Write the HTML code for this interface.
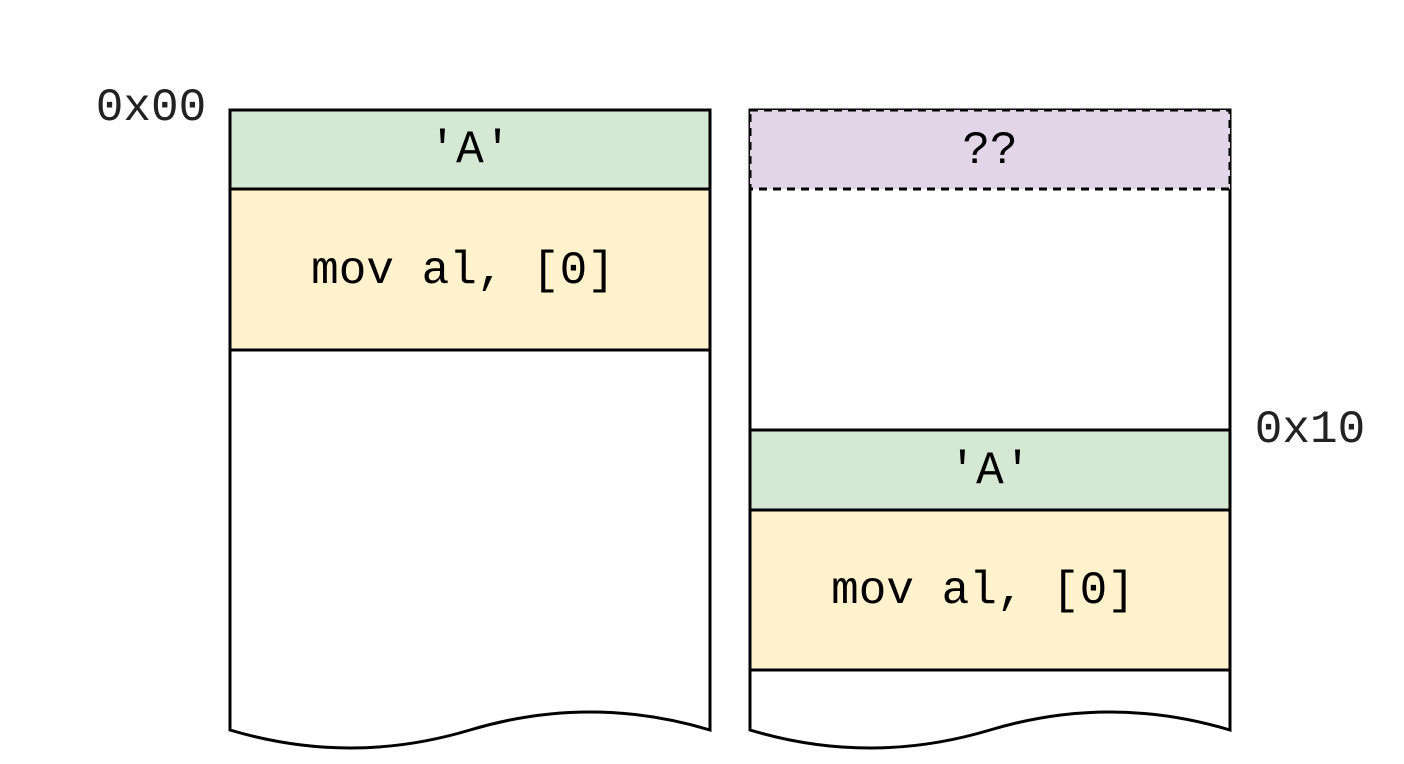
<!DOCTYPE html>
<html><head><style>html,body{margin:0;padding:0;background:#fff}</style></head>
<body>
<svg width="1404" height="764" xmlns="http://www.w3.org/2000/svg" style="display:block">
<g font-family="'Liberation Mono', monospace" font-size="46" fill="#000">
<!-- left -->
<path d="M230,110 H710 V730 Q590,694 470,730 Q350,766 230,730 Z" fill="#fff" stroke="#000" stroke-width="3"/>
<rect x="230" y="110" width="480" height="79" fill="#d5e8d4" stroke="#000" stroke-width="3"/>
<rect x="230" y="189" width="480" height="161" fill="#fff2cc" stroke="#000" stroke-width="3"/>
<text x="470" y="150" text-anchor="middle" dominant-baseline="central">'A'</text>
<text x="463" y="271" text-anchor="middle" dominant-baseline="central">mov al, [0]</text>
<text x="151" y="108" text-anchor="middle" dominant-baseline="central" fill="#222">0x00</text>
<!-- right -->
<path d="M750,110 H1230 V730 Q1110,694 990,730 Q870,766 750,730 Z" fill="#fff" stroke="#000" stroke-width="3"/>
<rect x="750" y="110" width="480" height="79" fill="#e1d5e7" stroke="#000" stroke-width="3" stroke-dasharray="8,6"/>
<rect x="750" y="430" width="480" height="80" fill="#d5e8d4" stroke="#000" stroke-width="3"/>
<rect x="750" y="510" width="480" height="160" fill="#fff2cc" stroke="#000" stroke-width="3"/>
<text x="990" y="151" text-anchor="middle" dominant-baseline="central">??</text>
<text x="990" y="471" text-anchor="middle" dominant-baseline="central">'A'</text>
<text x="983" y="591" text-anchor="middle" dominant-baseline="central">mov al, [0]</text>
<text x="1310" y="430" text-anchor="middle" dominant-baseline="central" fill="#222">0x10</text>
</g>
</svg>
</body></html>
